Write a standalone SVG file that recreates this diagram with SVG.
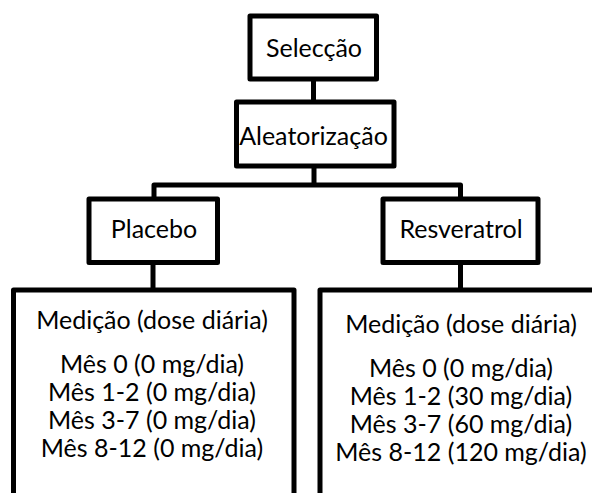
<svg xmlns="http://www.w3.org/2000/svg" width="592" height="493" viewBox="0 0 592 493">
<style>
.box{fill:#fff;stroke:#000;stroke-width:5;stroke-linejoin:round}
.ln{fill:none;stroke:#000;stroke-width:5;stroke-linejoin:round}
text{font-family:Lato,"Open Sans","DejaVu Sans",sans-serif;font-size:25px;fill:#000;text-anchor:middle}
</style>
<rect width="592" height="493" fill="#fff"/>
<g id="connectors">
<path class="ln" d="M313.5 79V102"/>
<path class="ln" d="M314 166V185M154 199V185H460.5V199"/>
<path class="ln" d="M153 262.5V290"/>
<path class="ln" d="M460.5 262.5V290"/>
</g>
<g id="selecao">
<rect class="box" x="250" y="16" width="126.5" height="63"/>
<text x="314" y="57">Selecção</text>
</g>
<g id="aleatorizacao">
<rect class="box" x="236.5" y="102" width="157.5" height="64"/>
<text x="313.5" y="145">Aleatorização</text>
</g>
<g id="placebo">
<rect class="box" x="89" y="199" width="128.5" height="63.5"/>
<text x="154" y="238">Placebo</text>
</g>
<g id="resveratrol">
<rect class="box" x="383" y="199" width="155" height="63.5"/>
<text x="461" y="238">Resveratrol</text>
</g>
<g id="medicao-placebo">
<rect class="box" x="13.5" y="290" width="280.5" height="220"/>
<text x="152" y="329">Medição (dose diária)</text>
<text x="152" y="373">Mês 0 (0 mg/dia)</text>
<text x="152" y="401">Mês 1-2 (0 mg/dia)</text>
<text x="152" y="429">Mês 3-7 (0 mg/dia)</text>
<text x="152" y="457">Mês 8-12 (0 mg/dia)</text>
</g>
<g id="medicao-resveratrol">
<rect class="box" x="320" y="290" width="290" height="220"/>
<text x="461" y="333">Medição (dose diária)</text>
<text x="461" y="377">Mês 0 (0 mg/dia)</text>
<text x="461" y="405">Mês 1-2 (30 mg/dia)</text>
<text x="461" y="433">Mês 3-7 (60 mg/dia)</text>
<text x="461" y="461">Mês 8-12 (120 mg/dia)</text>
</g>
</svg>
